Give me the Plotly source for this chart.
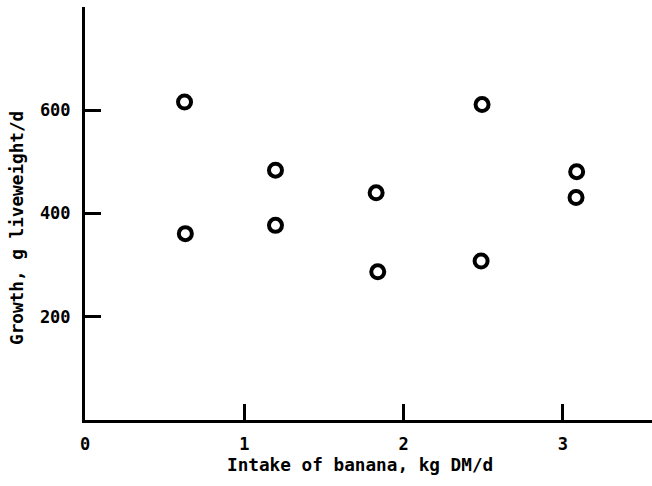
import plotly.graph_objects as go

# Data
intake = [0.625, 0.63, 1.196, 1.196, 1.828, 1.838, 2.493, 2.487, 3.087, 3.083]
growth = [616, 361, 484, 377, 440, 287, 611, 308, 481, 431]

x_ticks = [0, 1, 2, 3]
x_tick_labels = ["0", "1", "2", "3"]
y_ticks = [200, 400, 600]
y_tick_labels = ["200", "400", "600"]

x_title = "Intake of banana, kg DM/d"
y_title = "Growth, g liveweight/d"

W, H = 652, 486
ML, MR, MT, MB = 85, 0, 7, 66
PW, PH = W - ML - MR, H - MT - MB

font_family = "DejaVu Sans Mono"

fig = go.Figure(
    go.Scatter(
        x=intake, y=growth, mode="markers",
        marker=dict(symbol="circle-open", size=13, color="black",
                    line=dict(width=4, color="black")),
        hoverinfo="skip",
    )
)

axis_common = dict(
    showgrid=False, zeroline=False, showline=True, linecolor="black",
    linewidth=3, ticks="inside", ticklen=16, tickwidth=3, tickcolor="black",
    tickfont=dict(family=font_family, size=17, color="black", weight="bold"),
)

fig.update_layout(
    width=W, height=H,
    margin=dict(l=ML, r=MR, t=MT, b=MB, pad=0),
    plot_bgcolor="white", paper_bgcolor="white",
    showlegend=False,
    xaxis=dict(range=[0, 3.56], tickvals=x_ticks, ticktext=x_tick_labels,
               ticklabelstandoff=7, **axis_common),
    yaxis=dict(range=[0, 800], tickvals=y_ticks, ticktext=y_tick_labels,
               ticklabelstandoff=8, **axis_common),
    annotations=[
        dict(text=x_title, xref="paper", yref="paper",
             x=(360 - ML) / PW, y=-(465 - (MT + PH)) / PH,
             xanchor="center", yanchor="middle", showarrow=False,
             font=dict(family=font_family, size=17.7, color="black", weight="bold")),
        dict(text=y_title, xref="paper", yref="paper",
             x=-(ML - 17) / PW, y=((MT + PH) - 228) / PH,
             xanchor="center", yanchor="middle", showarrow=False, textangle=-90,
             font=dict(family=font_family, size=17.7, color="black", weight="bold")),
    ],
)

fig.write_html(
    "out.html",
    config={"displayModeBar": False},
    post_script="document.body.style.margin='0';document.body.style.overflow='hidden';",
)
